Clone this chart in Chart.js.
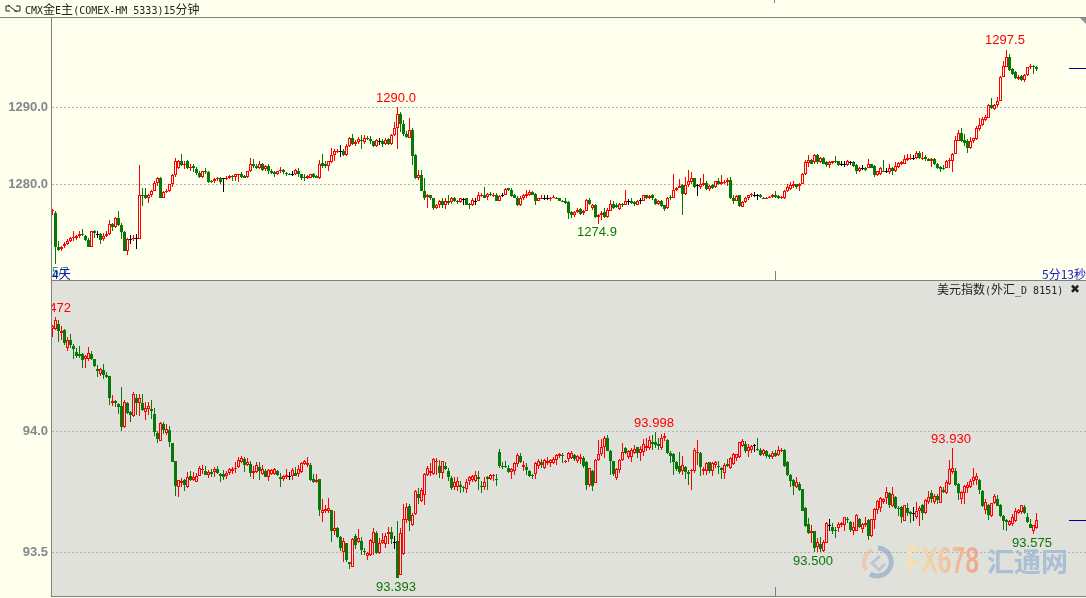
<!doctype html>
<html>

<head>
	<title>CMX gold / USD index</title>
	<meta charset="utf-8">
	<script src="https://cdn.jsdelivr.net/npm/chart.js@4"></script>
	<style>
		html, body { margin: 0; width: 1086px; height: 598px; overflow: hidden; background: #ffffee; }
		canvas { position: absolute; left: 0; }
		.line { position: absolute; background: #808080; }
		.txt { position: absolute; white-space: nowrap; font: 10px "DejaVu Sans Mono", monospace; line-height: 14px; color: #222; }
		.txt b { font: 12px "Noto Sans CJK SC"; line-height: 14px; }
	</style>
</head>

<body>
	<div style="position:absolute;left:52px;top:281px;width:1034px;height:315px;background:#e1e1db"></div>
	<canvas id="gold" width="1086" height="262" style="top:18px"></canvas>
	<canvas id="usd" width="1086" height="315" style="top:281px"></canvas>

	<div class="line" style="left:0;top:17px;width:1086px;height:1px"></div>
	<div class="line" style="left:51px;top:17px;width:1px;height:580px"></div>
	<div class="line" style="left:51px;top:280px;width:1035px;height:1px"></div>
	<div class="line" style="left:51px;top:596px;width:1035px;height:1px"></div>
	<div class="line" style="left:774px;top:0;width:1px;height:3px"></div>

	<svg style="position:absolute;left:5px;top:4px" width="16" height="10">
		<path d="M5 2H1V7H5M3 1L12 8M11 2H15V7H9" fill="none" stroke="#222"/>
	</svg>
	<div class="txt" style="left:25px;top:2px">CMX<b>金</b>E<b>主</b>(COMEX-HM 5333)15<b>分钟</b></div>
	<div class="txt" style="left:937px;top:282px"><b>美元指数</b>(<b>外汇</b>_D 8151)</div>
	<div class="txt" style="left:1070px;top:282px;font:bold 12px 'DejaVu Sans'">✖</div>
	<div class="txt" style="left:52px;top:265px;font:12px 'Liberation Sans';color:#2a9a80">5/7</div>
	<div class="txt" style="left:52px;top:265px;font:12px 'Noto Sans CJK SC';color:#1010c0">4天</div>
	<div style="position:absolute;left:1042px;top:265px;width:44px;overflow:hidden" class="txt"><span style="font:12px 'Noto Sans CJK SC';color:#1818c8">5分13秒</span></div>
	<svg style="position:absolute;left:1080px;top:18px" width="6" height="6"><path d="M0 0H6V6Z" fill="#909090"/></svg>

	<svg style="position:absolute;left:860px;top:544px;opacity:.55" width="36" height="36">
		<path d="M18 4A14 14 0 1 1 10 30" fill="none" stroke="#7f9fc0" stroke-width="5"/>
		<path d="M6 26A14 14 0 0 1 12 6" fill="none" stroke="#efb98f" stroke-width="4"/>
		<path d="M20 12L12 19L19 26L25 20" fill="none" stroke="#9fb4c8" stroke-width="3"/>
	</svg>
	<div style="position:absolute;left:906px;top:541px;font:bold 36px 'Liberation Sans';line-height:40px;transform:scaleX(.69);transform-origin:left;background:linear-gradient(90deg,#f6e2b8,#f0c8a0 50%,#eda68f);-webkit-background-clip:text;color:transparent">FX678</div>
	<div style="position:absolute;left:987px;top:541px;font:bold 27px 'Noto Sans CJK SC';line-height:40px;color:#a9bfd5">汇通网</div>

	<script>
		var goldTicks = [1280, 1290];
		var usdTicks = [93.5, 94];

		var goldOpen = [
			1276.6,1276.3,1271.9,1271.6,1272,1272.3,1272.7,1273,1273.1,1273.3,
			1273.6,1273.3,1272.8,1271.9,1273.9,1273.6,1273.6,1272.9,1273.3,1273.6,
			1274.9,1274.5,1275.7,1274.7,1273.8,1271.3,1272.9,1272.9,1273,1272.9,
			1278.7,1278.6,1278.2,1278.7,1279.2,1280.2,1280.8,1278.3,1279,1279.2,
			1280,1281.2,1282.2,1283.1,1282.6,1283,1282.2,1282.4,1282,1281.5,
			1281,1281.8,1281.6,1280.5,1280.4,1280.7,1280.8,1280.8,1280.7,1280.9,
			1281.1,1281,1281.2,1281.4,1281.1,1281,1281.7,1282.6,1282.4,1282.2,
			1282.6,1282,1282.4,1281.8,1281.6,1281.3,1281.7,1281.9,1281.5,1281.4,
			1281.4,1281.3,1281.8,1281.3,1281,1280.9,1280.9,1281.3,1281.1,1280.8,
			1282.8,1282.6,1282.4,1282.9,1283.8,1284.3,1284.3,1284.3,1283.8,1285,
			1286.1,1285.2,1285.5,1285.8,1285.5,1286.1,1285.9,1285.6,1285,1285.7,
			1285.7,1285.2,1285.9,1285.2,1286.4,1287.4,1289.2,1287.9,1286.6,1286.1,
			1287.1,1283.8,1280.8,1281.2,1279.2,1278.4,1278.6,1278.2,1276.9,1277.4,
			1277.9,1277.4,1277.8,1277.7,1278.3,1277.9,1277.7,1278.1,1278.2,1277.5,
			1277.4,1277.8,1277.9,1278.6,1278.7,1278.4,1278.8,1278.6,1278.7,1277.9,
			1278.7,1278.7,1279.5,1279.3,1278.6,1278.3,1277.4,1278.3,1278.5,1278.7,
			1279,1278.8,1277.9,1278.2,1278.3,1278.3,1278.2,1278.3,1278.3,1278.2,
			1277.9,1277.8,1277.7,1276.4,1276.1,1276.4,1276.8,1276.3,1276.6,1278,
			1276.9,1277.4,1275.8,1276,1276.4,1275.8,1276.6,1277.5,1277.4,1276.8,
			1277.5,1277.4,1277.8,1277.8,1277.7,1277.4,1278,1277.9,1278.6,1278.2,
			1278.6,1278.1,1277.5,1277.9,1277.3,1276.9,1278.4,1278.3,1279.3,1279.6,
			1279.9,1278.8,1279.9,1280.3,1280.8,1279.9,1279.7,1279.9,1280.2,1279.4,
			1279.9,1279.7,1280.4,1280.1,1280.2,1280.3,1280.6,1278.3,1277.9,1278.6,
			1277.1,1277.7,1278.2,1278.6,1278.7,1278.6,1278.6,1278.3,1278.2,1278.3,
			1278.4,1278.7,1278.5,1278.2,1278.2,1279.2,1279.4,1279.8,1280,1279.8,
			1280.1,1281.3,1282.8,1283.2,1282.9,1283.8,1282.9,1283.4,1282.9,1282.5,
			1282.8,1283.1,1283,1282.7,1282.7,1282.5,1282.9,1282.9,1282.5,1281.7,
			1282.2,1282.2,1282.2,1282.6,1282.4,1281.2,1281.4,1281.8,1281.7,1281.6,
			1282.2,1281.8,1282.3,1282.7,1282.7,1283.2,1283.3,1283.5,1283.4,1284.1,
			1283.3,1283.6,1283.3,1283.1,1283.3,1282.7,1282.3,1282.2,1282.2,1283.1,
			1283.1,1284,1285.7,1286.7,1285.8,1285.7,1284.8,1285.6,1285.9,1287.2,
			1287.7,1288.4,1288.7,1290.3,1289.8,1290.3,1290.9,1294,1295.3,1296.5,
			1295,1294.6,1293.7,1294.1,1293.6,1294.2,1295.2,1295.4,1295.3
		];
		var goldHigh = [
			1276.8,1276.5,1272.6,1272,1272.5,1272.9,1273.2,1273.9,1273.4,1274,
			1274.2,1273.4,1273,1274,1274.1,1273.9,1273.7,1273.7,1274,1275.4,
			1275,1275.8,1276.5,1275,1273.9,1273,1273.4,1273.5,1273.6,1282.5,
			1279.6,1279.6,1278.8,1279.3,1280.5,1281,1281,1279.1,1279.4,1280.1,
			1281.3,1283.4,1283.2,1283.9,1283,1283.2,1282.6,1282.7,1282.3,1281.7,
			1281.8,1282.1,1281.7,1280.6,1280.8,1281,1281,1280.9,1281.1,1281.2,
			1281.2,1281.4,1281.4,1281.6,1281.2,1281.8,1283.4,1283.3,1282.6,1283.1,
			1282.8,1282.5,1282.6,1282,1281.7,1281.8,1282.3,1282,1281.6,1281.5,
			1281.8,1282,1282.1,1281.4,1281.3,1281.2,1281.4,1281.5,1281.2,1283.2,
			1283.9,1283.1,1283.1,1284.7,1284.6,1284.6,1285.1,1284.6,1285.2,1286.2,
			1286.5,1285.8,1286.2,1286.4,1286.4,1286.3,1286.3,1285.7,1285.9,1286,
			1285.9,1286,1286,1286.5,1288.1,1290,1289.4,1288.4,1287,1288.7,
			1287.3,1283.9,1281.9,1281.9,1280.9,1278.8,1278.7,1278.3,1277.5,1278,
			1278.3,1278.3,1278.7,1278.4,1278.4,1278,1278.3,1278.3,1278.3,1277.6,
			1278.2,1278.3,1279,1278.9,1279.7,1278.9,1279,1278.9,1278.9,1278.6,
			1278.9,1279.5,1279.6,1279.5,1278.8,1278.5,1278.5,1278.8,1279.3,1279.3,
			1279.2,1278.9,1278.3,1278.6,1278.6,1278.6,1278.4,1278.6,1278.4,1278.3,
			1278,1278.2,1277.8,1276.5,1276.5,1276.9,1276.9,1276.7,1278.1,1278.3,
			1277.5,1277.5,1276.2,1276.5,1277,1276.9,1278,1277.9,1277.6,1277.6,
			1277.6,1279.3,1278.1,1278.3,1277.9,1278,1278.3,1278.7,1278.7,1278.7,
			1278.8,1278.2,1278,1278,1277.4,1278.4,1278.7,1281.3,1279.7,1280.7,
			1280,1281,1281.9,1281.6,1280.9,1280.1,1280.8,1281.3,1280.5,1279.9,
			1280,1280.5,1280.8,1281.2,1280.6,1280.8,1281,1278.6,1278.6,1278.7,
			1277.8,1278.4,1278.7,1278.9,1279,1278.8,1278.8,1278.4,1278.4,1278.5,
			1278.8,1279.1,1278.6,1278.5,1279.3,1280,1280.3,1280.5,1280.1,1280.2,
			1281.5,1283.2,1283.8,1283.3,1284,1284,1283.6,1283.6,1283,1283,
			1283.1,1283.7,1283.1,1283,1283,1283.2,1283.1,1283,1282.6,1282.3,
			1282.5,1282.3,1283.3,1282.7,1282.5,1281.8,1282.3,1283.2,1282.1,1282.6,
			1282.3,1282.9,1282.9,1283,1283.8,1283.9,1284,1283.8,1284.4,1284.4,
			1284.2,1283.8,1283.4,1283.4,1283.4,1282.8,1282.4,1282.5,1283.2,1283.4,
			1284.1,1286.3,1287.1,1287.3,1286.5,1285.9,1286.2,1286.1,1287.6,1288.7,
			1288.8,1289,1290.5,1291.2,1290.4,1291.3,1294.1,1296,1297.5,1296.9,
			1295.1,1294.7,1294.2,1294.2,1294.3,1295.3,1295.7,1295.5,1295.4
		];
		var goldLow = [
			1276,1269.7,1271.4,1271.4,1271.7,1272.1,1272.5,1272.7,1272.8,1273,
			1273.3,1272.6,1271.9,1271.9,1273.1,1273.1,1272.3,1272.6,1273.2,1273.4,
			1274,1274.3,1274.6,1272.9,1271.3,1270.8,1272.3,1272.7,1271.6,1272.9,
			1277.2,1278.1,1277.6,1278.4,1279.1,1279.8,1278.3,1278.2,1278.9,1279,
			1279.7,1281,1282,1282.4,1282,1282,1281.8,1281.6,1281.2,1280.8,
			1280.9,1281.4,1280.2,1280.2,1280.2,1280.5,1280,1279,1280.6,1280.7,
			1280.5,1280.4,1280.3,1280.9,1280.8,1280.8,1281.6,1282.2,1282,1282,
			1281.7,1281.8,1281.4,1281.4,1281,1281.2,1281.5,1281.4,1281.1,1281.2,
			1281.1,1281.2,1281,1280.6,1280.5,1280.7,1280.9,1280.8,1280.8,1280.7,
			1282.2,1282.2,1281.8,1282.8,1283,1284.1,1283.6,1283.7,1283.7,1284.9,
			1285.1,1285,1285.2,1284.6,1285.3,1285.8,1285.3,1284.9,1284.9,1285.1,
			1284.9,1285.1,1285.1,1285.1,1286.3,1284.6,1286.8,1286.3,1286,1286,
			1282.5,1280.7,1280.6,1279.1,1278,1276.9,1278,1276.7,1276.8,1277,
			1276.9,1276.8,1277.4,1277.5,1277.7,1277.5,1277.6,1277.3,1277.3,1276.8,
			1277.2,1277.4,1277.8,1278.4,1278.2,1278,1278.5,1278.4,1277.8,1277.8,
			1278.4,1278.6,1279.1,1278.4,1278.2,1277.2,1277.2,1278,1278.3,1278.5,
			1278.6,1277.3,1277.8,1278.1,1278,1278,1277.9,1278.2,1278.1,1277.8,
			1277.7,1277.5,1275.5,1275.6,1275.8,1276.3,1276,1276.1,1276.5,1277.4,
			1276.7,1275.7,1274.9,1275.4,1275.7,1275.6,1276.5,1276.8,1276.9,1276.7,
			1277.1,1277.3,1277.4,1277.5,1277.2,1277.3,1277.5,1277.8,1278.1,1278.1,
			1278,1277.3,1277.3,1277.1,1276.6,1276.8,1278,1278.2,1279.1,1279.5,
			1276.1,1278.7,1279.7,1280.1,1279.6,1278.5,1279.4,1279.8,1279.3,1279.2,
			1279.4,1279.6,1279.9,1279.9,1280,1279.8,1278.1,1277.5,1277.8,1277.1,
			1277.1,1277.6,1278,1278.4,1278.4,1278,1278.2,1278.1,1278.1,1278.2,
			1278.3,1278.3,1278.1,1278.1,1278.1,1279,1279.3,1279.6,1279.4,1279.1,
			1280,1281.2,1282.3,1282.6,1282.7,1282.7,1282.8,1282.6,1282.3,1282.2,
			1282.7,1282.8,1282.4,1282.4,1282.3,1282.4,1282.5,1282.3,1281.3,1281.6,
			1281.9,1281.7,1282.1,1282.1,1281,1281.1,1281.2,1281.6,1281.5,1281.3,
			1281.2,1281.6,1282.2,1282.5,1282.6,1283.1,1283.2,1283.2,1283.3,1283.3,
			1283.2,1283.1,1283,1282.3,1282.5,1282,1281.6,1281.9,1282.1,1282.2,
			1281.6,1283.9,1285.6,1285.5,1285,1284.1,1284.6,1285.4,1285.8,1287,
			1287.6,1288.3,1288.6,1289.8,1289.7,1290.1,1290.8,1293.9,1295.2,1294.8,
			1294.2,1293.7,1293.6,1293.5,1293.3,1294.1,1295,1294.4,1294.8
		];
		var goldClose = [
			1276.7,1271.9,1271.5,1271.9,1272.3,1272.7,1273,1273.2,1273.3,1273.6,
			1273.4,1272.8,1271.9,1273.9,1273.7,1273.6,1272.8,1273.3,1273.6,1274.9,
			1274.5,1275.7,1274.7,1273.8,1271.3,1272.9,1272.9,1273,1273,1278.7,
			1278.5,1278.3,1278.7,1279.2,1280.2,1280.8,1278.3,1279,1279.2,1280,
			1281.2,1283,1283.1,1282.5,1282.7,1282.2,1282.3,1282.1,1281.5,1281,
			1281.7,1281.6,1280.3,1280.3,1280.7,1280.8,1280.3,1280.8,1280.9,1281.1,
			1281,1281.3,1281.3,1281,1280.9,1281.7,1282.6,1282.4,1282.1,1282.7,
			1281.9,1282.4,1281.8,1281.5,1281.3,1281.7,1281.9,1281.6,1281.4,1281.3,
			1281.4,1281.9,1281.3,1280.9,1280.8,1281.1,1281.3,1281,1280.9,1282.7,
			1282.4,1282.4,1283,1283.8,1284.3,1284.4,1284.3,1283.8,1285,1286.1,
			1285.2,1285.5,1285.9,1285.6,1286.1,1285.9,1285.7,1285,1285.8,1285.7,
			1285.3,1285.8,1285.2,1286.4,1287.4,1289.2,1287.9,1286.5,1286.2,1287.1,
			1283.7,1280.8,1281.2,1279.1,1278.3,1278.6,1278.2,1277,1277.4,1277.9,
			1277.3,1277.9,1277.6,1278.3,1277.8,1277.7,1278.2,1278.1,1277.4,1277.4,
			1278,1277.8,1278.6,1278.7,1278.3,1278.8,1278.6,1278.7,1277.9,1278.5,
			1278.7,1279.4,1279.3,1278.5,1278.3,1277.4,1278.3,1278.6,1278.8,1279,
			1278.7,1277.9,1278.2,1278.3,1278.3,1278.3,1278.3,1278.4,1278.2,1277.9,
			1277.8,1277.6,1276.3,1276.1,1276.4,1276.7,1276.2,1276.6,1278,1277.5,
			1277.4,1275.8,1276,1276.3,1275.8,1276.7,1277.5,1277,1277.1,1277.5,
			1277.4,1277.9,1277.8,1277.6,1277.5,1277.9,1278,1278.6,1278.2,1278.5,
			1278.2,1277.5,1277.9,1277.2,1276.8,1278.3,1278.3,1279.3,1279.6,1279.8,
			1278.8,1279.9,1280.4,1280.8,1279.7,1279.9,1280,1280.2,1279.4,1279.8,
			1279.6,1280.4,1280,1280.3,1280.3,1280.6,1278.2,1277.9,1278.5,1277.2,
			1277.7,1278.3,1278.6,1278.8,1278.7,1278.6,1278.4,1278.2,1278.3,1278.4,
			1278.6,1278.4,1278.2,1278.4,1279.2,1279.7,1279.9,1280,1279.7,1280.1,
			1281.4,1282.9,1283.2,1282.7,1283.8,1282.9,1283.4,1282.7,1282.5,1282.9,
			1283,1282.9,1282.5,1282.7,1282.7,1283.1,1282.9,1282.4,1281.7,1282.2,
			1282.2,1281.9,1282.6,1282.2,1281.2,1281.7,1282.2,1281.7,1281.7,1282.2,
			1281.7,1282.4,1282.8,1282.9,1283.3,1283.4,1283.4,1283.5,1284.1,1283.4,
			1283.5,1283.3,1283.1,1283.3,1282.6,1282.2,1282,1282.1,1283.1,1283.2,
			1284,1285.8,1286.7,1285.7,1285.4,1284.8,1285.6,1286,1287.3,1287.7,
			1288.5,1288.8,1290.3,1289.9,1290.3,1290.9,1294,1295.4,1296.6,1294.9,
			1294.3,1293.8,1294,1293.6,1294.2,1295.2,1295.4,1295.3,1295
		];

		var usdOpen = [
			94.425,94.423,94.446,94.405,94.418,94.343,94.38,94.352,94.328,94.322,
			94.32,94.30,94.30,94.32,94.298,94.26,94.237,94.253,94.235,94.229,
			94.117,94.125,94.115,94.107,94.017,94.118,94.08,94.063,94.14,94.116,
			94.116,94.081,94.094,94.091,94.072,93.992,93.961,94.03,93.992,94.005,
			93.952,93.877,93.769,93.788,93.80,93.771,93.815,93.80,93.792,93.817,
			93.84,93.838,93.822,93.832,93.833,93.847,93.826,93.826,93.818,93.83,
			93.838,93.846,93.854,93.875,93.887,93.86,93.865,93.83,93.833,93.854,
			93.826,93.838,93.81,93.824,93.824,93.838,93.813,93.804,93.81,93.817,
			93.817,93.827,93.824,93.833,93.865,93.86,93.861,93.803,93.79,93.802,
			93.665,93.67,93.67,93.675,93.588,93.602,93.565,93.503,93.537,93.459,
			93.441,93.57,93.544,93.548,93.507,93.487,93.49,93.54,93.58,93.497,
			93.54,93.535,93.578,93.585,93.543,93.546,93.408,93.494,93.635,93.69,
			93.614,93.66,93.742,93.714,93.738,93.82,93.83,93.825,93.874,93.858,
			93.827,93.858,93.838,93.806,93.77,93.772,93.777,93.77,93.762,93.795,
			93.80,93.797,93.81,93.775,93.77,93.81,93.805,93.815,93.805,93.915,
			93.858,93.857,93.85,93.832,93.837,93.865,93.898,93.852,93.852,93.838,
			93.82,93.825,93.858,93.874,93.85,93.87,93.87,93.87,93.882,93.90,
			93.902,93.875,93.888,93.89,93.903,93.88,93.886,93.889,93.874,93.78,
			93.838,93.788,93.882,93.906,93.935,93.973,93.92,93.879,93.808,93.84,
			93.882,93.932,93.896,93.896,93.912,93.934,93.912,93.915,93.93,93.93,
			93.955,93.955,93.95,93.932,93.972,93.965,93.91,93.907,93.874,93.858,
			93.835,93.855,93.832,93.838,93.835,93.912,93.913,93.835,93.837,93.872,
			93.835,93.862,93.858,93.849,93.83,93.865,93.85,93.866,93.889,93.895,
			93.938,93.95,93.92,93.923,93.943,93.927,93.925,93.905,93.918,93.902,
			93.893,93.91,93.903,93.918,93.925,93.873,93.82,93.80,93.77,93.783,
			93.761,93.684,93.618,93.58,93.587,93.524,93.535,93.507,93.54,93.613,
			93.604,93.593,93.60,93.614,93.614,93.64,93.627,93.59,93.59,93.64,
			93.598,93.612,93.634,93.568,93.634,93.675,93.682,93.71,93.724,93.745,
			93.69,93.728,93.685,93.686,93.632,93.682,93.668,93.662,93.648,93.672,
			93.695,93.665,93.71,93.745,93.71,93.733,93.705,93.76,93.747,93.783,
			93.832,93.838,93.783,93.72,93.745,93.765,93.77,93.797,93.80,93.80,
			93.755,93.676,93.695,93.65,93.705,93.72,93.695,93.65,93.635,93.615,
			93.617,93.63,93.665,93.667,93.687,93.645,93.616,93.59,93.60
		];
		var usdHigh = [
			94.44,94.472,94.46,94.435,94.425,94.392,94.402,94.36,94.343,94.352,
			94.325,94.318,94.35,94.333,94.30,94.274,94.264,94.278,94.245,94.23,
			94.149,94.13,94.118,94.182,94.13,94.12,94.085,94.162,94.157,94.154,
			94.157,94.12,94.123,94.129,94.095,94.0,94.04,94.041,94.03,94.022,
			93.953,93.878,93.80,93.807,93.805,93.833,93.835,93.833,93.83,93.858,
			93.861,93.857,93.84,93.843,93.855,93.857,93.83,93.84,93.835,93.85,
			93.855,93.873,93.895,93.898,93.895,93.89,93.879,93.857,93.873,93.873,
			93.861,93.845,93.845,93.846,93.851,93.842,93.83,93.82,93.843,93.833,
			93.848,93.854,93.86,93.875,93.882,93.895,93.871,93.824,93.824,93.803,
			93.72,93.695,93.727,93.676,93.672,93.604,93.566,93.56,93.54,93.46,
			93.558,93.576,93.595,93.563,93.52,93.5,93.555,93.60,93.59,93.56,
			93.58,93.58,93.607,93.607,93.57,93.628,93.60,93.70,93.705,93.70,
			93.665,93.76,93.765,93.765,93.83,93.858,93.868,93.89,93.89,93.882,
			93.88,93.875,93.848,93.815,93.81,93.81,93.795,93.775,93.805,93.815,
			93.82,93.837,93.837,93.795,93.81,93.815,93.825,93.826,93.825,93.928,
			93.873,93.88,93.86,93.85,93.875,93.91,93.91,93.878,93.868,93.84,
			93.825,93.872,93.888,93.888,93.888,93.894,93.888,93.893,93.905,93.912,
			93.91,93.883,93.915,93.92,93.908,93.902,93.905,93.898,93.878,93.85,
			93.84,93.885,93.965,93.968,93.982,93.985,93.922,93.88,93.848,93.885,
			93.953,93.935,93.925,93.93,93.944,93.936,93.94,93.967,93.975,93.98,
			93.985,93.998,93.972,93.99,93.993,93.968,93.92,93.912,93.876,93.915,
			93.90,93.858,93.84,93.845,93.93,93.965,93.915,93.853,93.875,93.875,
			93.875,93.88,93.88,93.855,93.87,93.885,93.895,93.91,93.908,93.958,
			93.967,93.96,93.948,93.945,93.95,93.973,93.93,93.927,93.925,93.905,
			93.92,93.923,93.94,93.93,93.928,93.878,93.825,93.805,93.813,93.79,
			93.763,93.686,93.643,93.614,93.59,93.558,93.565,93.55,93.625,93.638,
			93.623,93.605,93.625,93.625,93.648,93.645,93.63,93.625,93.66,93.643,
			93.62,93.648,93.64,93.64,93.685,93.718,93.728,93.725,93.77,93.75,
			93.77,93.735,93.69,93.69,93.698,93.703,93.67,93.686,93.71,93.69,
			93.70,93.72,93.755,93.76,93.74,93.74,93.775,93.77,93.80,93.882,
			93.932,93.848,93.786,93.755,93.78,93.79,93.805,93.848,93.83,93.803,
			93.758,93.72,93.70,93.705,93.74,93.737,93.70,93.655,93.64,93.635,
			93.66,93.682,93.68,93.697,93.697,93.662,93.637,93.615,93.662
		];
		var usdLow = [
			94.391,94.42,94.37,94.38,94.358,94.333,94.345,94.30,94.305,94.302,
			94.264,94.262,94.29,94.295,94.268,94.226,94.23,94.219,94.222,94.11,
			94.105,94.10,94.074,94.003,94.015,94.072,94.04,94.06,94.07,94.063,
			94.085,94.047,94.067,94.052,93.981,93.953,93.96,93.99,93.985,93.937,
			93.873,93.733,93.73,93.772,93.755,93.768,93.795,93.795,93.79,93.815,
			93.825,93.82,93.807,93.81,93.81,93.826,93.792,93.80,93.805,93.82,
			93.825,93.83,93.85,93.87,93.833,93.856,93.81,93.802,93.83,93.80,
			93.82,93.81,93.796,93.82,93.82,93.818,93.771,93.797,93.805,93.80,
			93.80,93.815,93.812,93.83,93.86,93.855,93.795,93.788,93.788,93.65,
			93.627,93.665,93.665,93.544,93.572,93.56,93.505,93.462,93.46,93.43,
			93.44,93.515,93.537,93.49,93.49,93.469,93.487,93.49,93.495,93.495,
			93.535,93.518,93.535,93.535,93.515,93.393,93.405,93.49,93.62,93.587,
			93.61,93.655,93.70,93.71,93.695,93.815,93.817,93.82,93.82,93.807,
			93.805,93.84,93.795,93.76,93.76,93.752,93.747,93.75,93.745,93.78,
			93.79,93.79,93.76,93.745,93.76,93.76,93.80,93.795,93.775,93.848,
			93.847,93.85,93.83,93.805,93.82,93.855,93.87,93.835,93.82,93.81,
			93.805,93.805,93.845,93.85,93.845,93.86,93.855,93.865,93.86,93.89,
			93.87,93.87,93.875,93.885,93.88,93.87,93.866,93.85,93.76,93.77,
			93.755,93.786,93.88,93.90,93.89,93.918,93.82,93.815,93.80,93.83,
			93.88,93.908,93.885,93.875,93.905,93.892,93.877,93.90,93.92,93.925,
			93.925,93.93,93.923,93.925,93.96,93.908,93.87,93.82,93.835,93.825,
			93.82,93.805,93.78,93.76,93.83,93.86,93.815,93.82,93.82,93.83,
			93.815,93.85,93.825,93.805,93.805,93.855,93.845,93.86,93.88,93.89,
			93.935,93.91,93.895,93.91,93.915,93.92,93.90,93.90,93.89,93.885,
			93.887,93.895,93.90,93.915,93.855,93.818,93.77,93.736,93.765,93.755,
			93.67,93.605,93.578,93.54,93.50,93.503,93.503,93.50,93.537,93.59,
			93.575,93.558,93.585,93.605,93.59,93.62,93.585,93.572,93.587,93.60,
			93.58,93.605,93.55,93.565,93.595,93.66,93.668,93.70,93.70,93.685,
			93.687,93.68,93.65,93.62,93.63,93.65,93.62,93.632,93.64,93.61,
			93.635,93.66,93.70,93.705,93.70,93.70,93.703,93.745,93.74,93.78,
			93.825,93.775,93.716,93.70,93.70,93.745,93.765,93.78,93.78,93.74,
			93.687,93.66,93.635,93.645,93.70,93.69,93.645,93.593,93.59,93.61,
			93.61,93.625,93.66,93.66,93.66,93.623,93.60,93.575,93.595
		];
		var usdClose = [
			94.438,94.46,94.416,94.414,94.364,94.378,94.358,94.339,94.312,94.312,
			94.297,94.314,94.326,94.30,94.27,94.25,94.257,94.233,94.226,94.14,
			94.128,94.117,94.102,94.02,94.121,94.078,94.067,94.154,94.116,94.138,
			94.088,94.099,94.105,94.085,93.997,93.97,94.037,94.005,94.012,93.957,
			93.875,93.776,93.798,93.796,93.78,93.811,93.80,93.81,93.817,93.851,
			93.847,93.822,93.832,93.824,93.847,93.829,93.817,93.813,93.83,93.843,
			93.847,93.851,93.884,93.89,93.861,93.875,93.83,93.836,93.86,93.836,
			93.847,93.813,93.84,93.84,93.843,93.82,93.803,93.818,93.822,93.817,
			93.84,93.818,93.843,93.868,93.877,93.868,93.80,93.79,93.80,93.675,
			93.675,93.68,93.683,93.588,93.603,93.562,93.518,93.549,93.468,93.453,
			93.554,93.53,93.558,93.51,93.50,93.497,93.552,93.585,93.497,93.54,
			93.552,93.568,93.583,93.555,93.543,93.393,93.58,93.637,93.687,93.632,
			93.655,93.752,93.724,93.758,93.825,93.85,93.838,93.885,93.88,93.83,
			93.877,93.844,93.81,93.768,93.793,93.796,93.772,93.765,93.793,93.81,
			93.816,93.82,93.802,93.77,93.79,93.805,93.82,93.822,93.80,93.857,
			93.852,93.855,93.833,93.844,93.868,93.903,93.872,93.86,93.84,93.816,
			93.814,93.868,93.877,93.862,93.882,93.88,93.882,93.886,93.902,93.906,
			93.897,93.88,93.91,93.913,93.885,93.898,93.896,93.857,93.78,93.848,
			93.775,93.882,93.907,93.936,93.975,93.92,93.878,93.824,93.844,93.882,
			93.915,93.91,93.92,93.923,93.928,93.91,93.928,93.948,93.94,93.965,
			93.948,93.945,93.94,93.972,93.98,93.913,93.90,93.875,93.843,93.833,
			93.86,93.833,93.826,93.84,93.923,93.917,93.852,93.843,93.868,93.835,
			93.868,93.872,93.853,93.84,93.86,93.858,93.89,93.908,93.907,93.955,
			93.96,93.92,93.935,93.94,93.943,93.922,93.903,93.923,93.897,93.893,
			93.912,93.90,93.925,93.925,93.857,93.82,93.795,93.775,93.793,93.76,
			93.673,93.61,93.58,93.588,93.52,93.543,93.513,93.545,93.623,93.613,
			93.59,93.589,93.617,93.62,93.645,93.635,93.593,93.604,93.656,93.604,
			93.618,93.62,93.568,93.637,93.68,93.714,93.724,93.72,93.75,93.695,
			93.742,93.682,93.68,93.648,93.695,93.663,93.659,93.662,93.672,93.684,
			93.662,93.717,93.73,93.72,93.733,93.717,93.772,93.75,93.79,93.843,
			93.848,93.78,93.745,93.75,93.775,93.78,93.795,93.812,93.815,93.76,
			93.69,93.71,93.655,93.703,93.735,93.693,93.65,93.632,93.625,93.63,
			93.645,93.672,93.675,93.695,93.662,93.627,93.603,93.612,93.634
		];

		var goldMarkIndex = [115, 182, 318];
		var goldMarkValue = [1290.0, 1274.9, 1297.5];
		var goldMarkSide = [1, -1, 1];
		var goldLast = 1295.1;

		var usdMarkIndex = [0, 115, 201, 254, 300, 327];
		var usdMarkValue = [94.472, 93.393, 93.998, 93.5, 93.93, 93.575];
		var usdMarkSide = [1, -1, 1, -1, 1, -1];
		var usdLast = 93.633;

		var sessionBreaks = [240.67];

		var upColor = '#ff0000', downColor = '#087808', flatColor = '#000000';

		function candleColor(o, c) {
			return c > o ? upColor : (c < o ? downColor : flatColor);
		}

		// hard pixel edges, the original is a bitmap chart without antialiasing
		var snapBars = {
			id: 'snapBars',
			afterDatasetsUpdate: function(chart) {
				chart.data.datasets.forEach(function(ds, n) {
					chart.getDatasetMeta(n).data.forEach(function(b) {
						b.y = Math.round(b.y);
						b.base = Math.round(b.base);
						if (b.y === b.base) b.base = b.y + 1;
					});
				});
			}
		};

		function panePlugin(marks, last, decimals) {
			return {
				id: 'panePlugin',
				afterDatasetsDraw: function(chart) {
					var ctx = chart.ctx, x = chart.scales.x, y = chart.scales.y, a = chart.chartArea;
					ctx.save();
					ctx.beginPath();
					ctx.rect(a.left, a.top, a.right - a.left, a.bottom - a.top);
					ctx.clip();
					ctx.font = '13px "Liberation Sans"';
					ctx.textAlign = 'center';
					ctx.textBaseline = 'middle';
					marks.index.forEach(function(idx, n) {
						ctx.fillStyle = marks.side[n] > 0 ? '#ff0000' : '#087808';
						ctx.fillText(marks.value[n].toFixed(decimals), x.getPixelForValue(idx) - 1.5, y.getPixelForValue(marks.value[n]) - marks.side[n] * 9);
					});
					var ly = Math.round(y.getPixelForValue(last)) + 0.5;
					ctx.strokeStyle = '#0000a0';
					ctx.beginPath();
					ctx.moveTo(1069, ly);
					ctx.lineTo(a.right, ly);
					ctx.stroke();
					ctx.strokeStyle = '#808080';
					sessionBreaks.forEach(function(s) {
						var bx = Math.round(x.getPixelForValue(s)) + 0.5;
						ctx.beginPath();
						ctx.moveTo(bx, a.bottom - 9);
						ctx.lineTo(bx, a.bottom);
						ctx.stroke();
					});
					ctx.restore();
				}
			};
		}

		function makePane(id, open, high, low, close, ticks, yMin, yMax, decimals, bg, marks, last) {
			var wick = open.map(function(o, i) { return [low[i], high[i]]; });
			var body = open.map(function(o, i) { return [o, close[i]]; });
			var colors = open.map(function(o, i) { return candleColor(o, close[i]); });
			var fills = open.map(function(o, i) { return close[i] > o ? bg : colors[i]; });
			new Chart(document.getElementById(id).getContext('2d'), {
				type: 'bar',
				data: {
					labels: open.map(function(o, i) { return i; }),
					datasets: [{
						data: body,
						order: 1,
						barThickness: 3,
						backgroundColor: fills,
						borderColor: colors,
						borderWidth: 1,
						borderSkipped: false,
						inflateAmount: 0,
						grouped: false
					}, {
						data: wick,
						order: 2,
						barThickness: 1,
						backgroundColor: colors,
						borderWidth: 0,
						inflateAmount: 0,
						grouped: false
					}]
				},
				options: {
					responsive: false,
					animation: false,
					events: [],
					layout: { padding: 0, autoPadding: false },
					plugins: { legend: { display: false }, tooltip: { enabled: false } },
					scales: {
						x: { type: 'linear', display: false, offset: false, min: -1 / 6, max: -1 / 6 + 1034 / 3 },
						y: {
							min: yMin,
							max: yMax,
							afterFit: function(s) { s.width = 52; s.paddingTop = 0; s.paddingBottom = 0; },
							afterBuildTicks: function(s) { s.ticks = ticks.map(function(v) { return { value: v }; }); },
							border: { display: false, dash: [2, 2] },
							grid: { color: '#b4b4aa', drawTicks: false },
							ticks: {
								padding: 4,
								color: '#84888c',
								font: { family: 'Liberation Sans', size: 13, weight: 'bold' },
								callback: function(v) { return Number(v).toFixed(1); }
							}
						}
					}
				},
				plugins: [snapBars, panePlugin(marks, last, decimals)]
			});
		}

		makePane('gold', goldOpen, goldHigh, goldLow, goldClose, goldTicks, 1267.597, 1301.623, 1, '#ffffee',
			{ index: goldMarkIndex, value: goldMarkValue, side: goldMarkSide }, goldLast);
		makePane('usd', usdOpen, usdHigh, usdLow, usdClose, usdTicks, 93.32, 94.622, 3, '#e1e1db',
			{ index: usdMarkIndex, value: usdMarkValue, side: usdMarkSide }, usdLast);
	</script>
</body>

</html>
